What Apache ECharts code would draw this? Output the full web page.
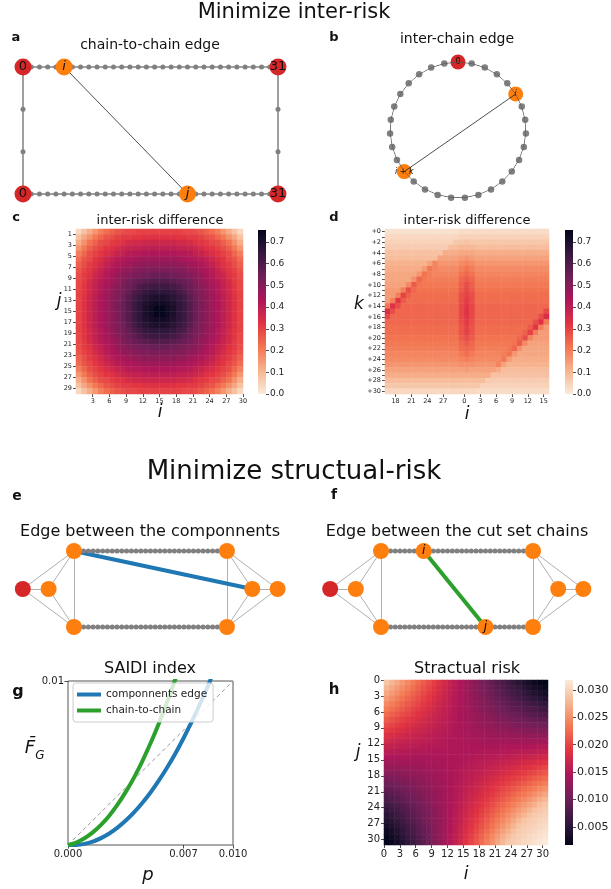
<!DOCTYPE html>
<html>
<head>
<meta charset="utf-8">
<title>Minimize inter-risk / structual-risk</title>
<script src="https://cdn.jsdelivr.net/npm/echarts@6.0.0/dist/echarts.min.js"></script>
<style>
html,body{margin:0;padding:0;background:#fff;}
#chart{width:611px;height:889px;}
</style>
</head>
<body>
<div id="chart"></div>
<script>
const FONT = 'DejaVu Sans';
const RED = '#d62728', ORANGE = '#ff7f0e', GREY = '#808080', BLUE = '#1f77b4', GREEN = '#2ca02c';
const ROCKET = ['#03051a', '#35193e', '#701f57', '#ad1759', '#e13342', '#f37651', '#f6b48f', '#faebdd'];
const ROCKET_R = ROCKET.slice().reverse();

// ================= DATA =================
// (a) chain-to-chain edge
const aChainNodes = 32;
const aSideNodes = 2;
const aEdgeI = 5;
const aEdgeJ = 20;

// (b) inter-chain edge on a ring
const bRingNodes = 31;
const bEdgeI = 5;
const bEdgeK = 15;

// (c) inter-risk difference (values x0.01), rows j, cols i
const cRange = [0, 0.755];
const cXTicks = [3, 6, 9, 12, 15, 18, 21, 24, 27, 30];
const cYTicks = [1, 3, 5, 7, 9, 11, 13, 15, 17, 19, 21, 23, 25, 27, 29];
const cBarTicks = [0, 0.1, 0.2, 0.3, 0.4, 0.5, 0.6, 0.7];
const cValues = [
[4,8,12,16,20,23,25,27,28,29,29,30,30,30,30,30,30,30,30,29,29,28,27,25,23,20,16,12,8,4],
[8,13,17,21,24,27,28,30,31,31,32,32,33,33,33,33,33,33,32,32,31,31,30,28,27,24,21,17,13,8],
[12,17,22,25,28,29,31,32,33,35,36,36,37,37,37,37,37,37,36,36,35,33,32,31,29,28,25,22,17,12],
[16,21,25,28,30,32,33,35,37,38,39,39,40,40,40,40,40,40,39,39,38,37,35,33,32,30,28,25,21,16],
[20,24,28,30,32,34,36,38,39,41,42,42,43,43,43,43,43,43,42,42,41,39,38,36,34,32,30,28,24,20],
[23,27,29,32,34,37,39,41,42,43,44,45,46,46,46,46,46,46,45,44,43,42,41,39,37,34,32,29,27,23],
[25,28,31,33,36,39,41,43,44,46,47,48,49,49,49,49,49,49,48,47,46,44,43,41,39,36,33,31,28,25],
[27,30,32,35,38,41,43,45,47,48,50,51,51,52,52,52,52,51,51,50,48,47,45,43,41,38,35,32,30,27],
[28,31,33,37,39,42,44,47,49,51,52,53,54,55,55,55,55,54,53,52,51,49,47,44,42,39,37,33,31,28],
[29,31,35,38,41,43,46,48,51,53,55,56,58,59,59,59,59,58,56,55,53,51,48,46,43,41,38,35,31,29],
[29,32,36,39,42,44,47,50,52,55,57,60,62,63,63,63,63,62,60,57,55,52,50,47,44,42,39,36,32,29],
[30,32,36,39,42,45,48,51,53,56,60,62,65,66,66,66,66,65,62,60,56,53,51,48,45,42,39,36,32,30],
[30,33,37,40,43,46,49,51,54,58,62,65,67,69,70,70,69,67,65,62,58,54,51,49,46,43,40,37,33,30],
[30,33,37,40,43,46,49,52,55,59,63,66,69,71,72,72,71,69,66,63,59,55,52,49,46,43,40,37,33,30],
[30,33,37,40,43,46,49,52,55,59,63,66,70,72,75,75,72,70,66,63,59,55,52,49,46,43,40,37,33,30],
[30,33,37,40,43,46,49,52,55,59,63,66,70,72,75,75,72,70,66,63,59,55,52,49,46,43,40,37,33,30],
[30,33,37,40,43,46,49,52,55,59,63,66,69,71,72,72,71,69,66,63,59,55,52,49,46,43,40,37,33,30],
[30,33,37,40,43,46,49,51,54,58,62,65,67,69,70,70,69,67,65,62,58,54,51,49,46,43,40,37,33,30],
[30,32,36,39,42,45,48,51,53,56,60,62,65,66,66,66,66,65,62,60,56,53,51,48,45,42,39,36,32,30],
[29,32,36,39,42,44,47,50,52,55,57,60,62,63,63,63,63,62,60,57,55,52,50,47,44,42,39,36,32,29],
[29,31,35,38,41,43,46,48,51,53,55,56,58,59,59,59,59,58,56,55,53,51,48,46,43,41,38,35,31,29],
[28,31,33,37,39,42,44,47,49,51,52,53,54,55,55,55,55,54,53,52,51,49,47,44,42,39,37,33,31,28],
[27,30,32,35,38,41,43,45,47,48,50,51,51,52,52,52,52,51,51,50,48,47,45,43,41,38,35,32,30,27],
[25,28,31,33,36,39,41,43,44,46,47,48,49,49,49,49,49,49,48,47,46,44,43,41,39,36,33,31,28,25],
[23,27,29,32,34,37,39,41,42,43,44,45,46,46,46,46,46,46,45,44,43,42,41,39,37,34,32,29,27,23],
[20,24,28,30,32,34,36,38,39,41,42,42,43,43,43,43,43,43,42,42,41,39,38,36,34,32,30,28,24,20],
[16,21,25,28,30,32,33,35,37,38,39,39,40,40,40,40,40,40,39,39,38,37,35,33,32,30,28,25,21,16],
[12,17,22,25,28,29,31,32,33,35,36,36,37,37,37,37,37,37,36,36,35,33,32,31,29,28,25,22,17,12],
[8,13,17,21,24,27,28,30,31,31,32,32,33,33,33,33,33,33,32,32,31,31,30,28,27,24,21,17,13,8],
[4,8,12,16,20,23,25,27,28,29,29,30,30,30,30,30,30,30,30,29,29,28,27,25,23,20,16,12,8,4]
];

// (d) inter-risk difference (values x0.01), rows k, columns in order of i below
const dColI = [16,17,18,19,20,21,22,23,24,25,26,27,28,29,30,0,1,2,3,4,5,6,7,8,9,10,11,12,13,14,15];
const dRowLabels = ['+0','+1','+2','+3','+4','+5','+6','+7','+8','+9','+10','+11','+12','+13','+14','+15','+16','+17','+18','+19','+20','+21','+22','+23','+24','+25','+26','+27','+28','+29','+30'];
const dXTickPos = [2, 5, 8, 11, 15, 18, 21, 24, 27, 30];
const dValues = [
[2,2,2,2,2,2,2,2,2,2,2,2,2,2,3,3,3,3,3,3,3,3,3,3,3,3,3,3,3,3,3],
[4,4,4,4,4,4,4,4,4,4,4,4,4,4,5,5,5,5,5,5,5,5,5,5,5,5,5,5,5,5,5],
[5,5,5,5,5,5,5,5,5,5,5,5,5,7,7,8,7,7,7,7,7,7,7,7,7,7,7,7,7,7,7],
[6,6,6,6,6,6,6,6,6,6,6,6,9,9,10,10,10,9,9,9,9,9,9,9,9,9,9,9,9,9,9],
[8,8,8,8,8,8,8,8,8,8,8,12,12,12,13,13,13,12,12,12,12,12,12,12,12,12,12,12,12,12,12],
[9,9,9,9,9,9,9,9,9,9,14,14,14,14,15,16,15,14,14,14,14,14,14,14,14,14,14,14,14,14,14],
[11,11,11,11,11,11,11,11,14,19,16,16,16,16,18,19,18,16,16,16,16,16,16,16,16,16,16,16,16,16,16],
[12,12,12,12,12,12,12,15,21,19,18,18,18,18,20,22,20,18,18,18,18,18,18,18,18,18,18,18,18,18,18],
[13,13,13,13,13,13,16,22,20,19,19,19,19,19,22,24,22,19,19,19,19,19,19,19,19,19,19,19,19,19,19],
[13,13,13,13,13,17,24,21,20,20,20,20,20,20,24,26,24,20,20,20,20,20,20,20,20,20,20,20,20,20,20],
[14,14,14,14,18,26,22,21,21,21,21,21,21,21,25,28,25,21,21,21,21,21,21,21,21,21,21,21,21,21,21],
[15,15,15,20,28,24,22,22,22,22,22,22,22,22,26,29,26,22,22,22,22,22,22,22,22,22,22,22,22,22,22],
[15,15,20,30,25,23,23,23,23,23,23,23,23,23,28,30,28,23,23,23,23,23,23,23,23,23,23,23,23,23,23],
[15,20,32,26,23,23,23,23,23,23,23,23,23,23,28,31,28,23,23,23,23,23,23,23,23,23,23,23,23,23,23],
[21,33,28,24,24,24,24,24,24,24,24,24,24,24,29,32,29,24,24,24,24,24,24,24,24,24,24,24,24,24,24],
[34,28,24,24,24,24,24,24,24,24,24,24,24,24,29,33,29,24,24,24,24,24,24,24,24,24,24,24,24,24,29],
[29,24,24,24,24,24,24,24,24,24,24,24,24,24,29,32,29,24,24,24,24,24,24,24,24,24,24,24,24,28,34],
[24,24,24,24,24,24,24,24,24,24,24,24,24,24,28,31,28,24,24,24,24,24,24,24,24,24,24,24,28,33,21],
[23,23,23,23,23,23,23,23,23,23,23,23,23,23,27,30,27,23,23,23,23,23,23,23,23,23,23,26,32,20,15],
[23,23,23,23,23,23,23,23,23,23,23,23,23,23,27,30,27,23,23,23,23,23,23,23,23,23,25,30,20,15,15],
[22,22,22,22,22,22,22,22,22,22,22,22,22,22,26,28,26,22,22,22,22,22,22,22,22,24,28,19,15,15,15],
[21,21,21,21,21,21,21,21,21,21,21,21,21,21,24,26,24,21,21,21,21,21,21,21,22,26,18,14,14,14,14],
[20,20,20,20,20,20,20,20,20,20,20,20,20,20,23,24,23,20,20,20,20,20,20,21,24,17,13,13,13,13,13],
[19,19,19,19,19,19,19,19,19,19,19,19,19,19,21,23,21,19,19,19,19,19,20,22,16,13,13,13,13,13,13],
[18,18,18,18,18,18,18,18,18,18,18,18,18,18,19,20,19,18,18,18,18,18,21,15,12,12,12,12,12,12,12],
[16,16,16,16,16,16,16,16,16,16,16,16,16,16,17,17,17,16,16,16,16,19,14,11,11,11,11,11,11,11,11],
[14,14,14,14,14,14,14,14,14,14,14,14,14,14,14,15,14,14,14,14,14,12,9,9,9,9,9,9,9,9,9],
[12,12,12,12,12,12,12,12,12,12,12,12,12,12,12,12,12,12,12,12,8,8,8,8,8,8,8,8,8,8,8],
[9,9,9,9,9,9,9,9,9,9,9,9,9,9,9,9,9,9,9,6,6,6,6,6,6,6,6,6,6,6,6],
[7,7,7,7,7,7,7,7,7,7,7,7,7,7,7,7,7,7,5,5,5,5,5,5,5,5,5,5,5,5,5],
[4,4,4,4,4,4,4,4,4,4,4,4,4,4,4,4,4,3,3,3,3,3,3,3,3,3,3,3,3,3,3]
];

// (e)(f) component graphs
const efChainNodes = 31;
const efHubX = [-10.7, -5.3, 37.3, 42.6];
const fEdgeI = 9;
const fEdgeJ = 22;

// (g) SAIDI index
const gP = [0,0.0005,0.001,0.0015,0.002,0.0025,0.003,0.0035,0.004,0.0045,0.005,0.0055,0.006,0.0065,0.007,0.0075,0.008,0.0085,0.009];
const gComponents = [0,0.000006,0.000071,0.000209,0.000419,0.000702,0.00106,0.00149,0.00199,0.00256,0.0032,0.00392,0.00471,0.00557,0.00651,0.00752,0.0086,0.00975,0.01098];
const gChainP = [0,0.0005,0.001,0.0015,0.002,0.0025,0.003,0.0035,0.004,0.0045,0.005,0.0055,0.006,0.0065,0.007];
const gChain = [0,0.00015,0.00041,0.00077,0.00123,0.00179,0.00246,0.00324,0.00411,0.0051,0.0062,0.0074,0.0087,0.0101,0.0115];
const gDiag = [0, 0.01];
const gXTicks = [0, 0.007, 0.01];
const gYTicks = [0.01];

// (h) Stractual risk (values x0.0001), rows j, cols i
const hRange = [0.0017, 0.0318];
const hTicks = [0, 3, 6, 9, 12, 15, 18, 21, 24, 27, 30];
const hBarTicks = [0.005, 0.01, 0.015, 0.02, 0.025, 0.03];
const hValues = [
[288,277,267,256,245,235,225,215,205,195,185,175,165,156,146,137,128,119,110,101,92,83,75,66,58,50,42,34,26,18,17],
[277,267,257,247,238,228,218,209,200,190,181,172,163,154,146,137,129,120,112,104,96,88,80,72,65,57,50,42,35,28,21],
[266,257,248,239,230,221,212,203,195,186,178,169,161,153,145,137,130,122,114,107,100,92,85,78,71,65,58,51,45,38,32],
[256,247,239,230,222,214,206,198,190,182,174,167,159,152,145,138,131,124,117,110,104,97,91,84,78,72,66,60,55,49,43],
[245,238,230,222,214,207,200,192,185,178,171,164,158,151,145,138,132,126,120,114,108,102,96,91,85,80,75,70,65,60,55],
[235,228,221,214,207,200,194,187,181,174,168,162,156,150,144,139,133,128,122,117,112,107,102,97,92,88,83,79,75,70,66],
[225,218,212,206,200,194,188,182,176,171,165,160,155,149,144,139,135,130,125,121,116,112,108,104,100,96,92,88,85,81,78],
[215,209,203,198,192,187,182,177,172,167,162,158,153,149,144,140,136,132,128,124,121,117,114,110,107,104,101,98,95,92,90],
[205,200,195,190,185,181,176,172,168,164,160,156,152,148,145,141,138,134,131,128,125,122,120,117,114,112,110,108,105,103,102],
[195,190,186,182,178,174,171,167,163,160,157,154,151,148,145,142,139,137,134,132,130,128,126,124,122,120,119,117,116,115,113],
[185,181,178,174,171,168,165,162,159,157,154,152,149,147,145,143,141,139,138,136,134,133,132,131,130,129,128,127,126,126,125],
[175,172,169,167,164,162,160,158,156,154,152,150,148,147,146,144,143,142,141,140,139,139,138,138,137,137,137,137,137,137,138],
[165,163,161,159,158,156,155,153,152,151,149,149,148,147,146,146,145,145,144,144,144,144,145,145,145,146,146,147,148,149,150],
[156,154,153,152,151,150,149,149,148,148,147,147,147,147,147,147,147,148,148,149,149,150,151,152,153,154,156,157,159,160,162],
[146,146,145,145,145,144,144,144,144,145,145,146,146,147,148,148,149,151,152,153,154,156,158,159,161,163,165,167,170,172,175],
[137,137,137,138,138,139,139,140,141,142,143,144,146,147,148,150,152,154,156,158,160,162,164,167,169,172,175,178,181,184,187],
[128,129,130,131,132,133,134,136,138,139,141,143,145,147,149,152,154,157,159,162,165,168,171,174,178,181,185,188,192,196,200],
[119,120,122,124,126,128,130,132,134,137,139,142,145,148,151,154,157,160,163,167,170,174,178,182,186,190,194,199,203,208,212],
[110,112,114,117,120,122,125,128,131,134,138,141,144,148,152,156,159,163,168,172,176,181,185,190,195,199,204,209,215,220,225],
[101,104,107,110,114,117,121,124,128,132,136,140,144,149,153,158,162,167,172,177,182,187,192,198,203,209,214,220,226,232,238],
[92,96,100,104,108,112,116,121,125,130,134,139,144,149,154,160,165,171,176,182,188,194,200,206,212,218,225,231,238,245,251],
[83,88,92,97,102,107,112,117,122,128,133,139,144,150,156,162,168,174,181,187,193,200,207,214,221,228,235,242,249,257,265],
[75,80,85,91,96,102,108,114,120,126,132,138,145,151,158,164,171,178,185,192,199,207,214,222,230,237,245,253,261,270,278],
[66,72,78,84,91,97,104,110,117,124,131,138,145,152,159,167,174,182,190,198,206,214,222,230,239,247,256,264,273,282,290],
[58,65,71,78,85,92,100,107,114,122,130,137,145,153,161,169,178,186,195,203,212,221,230,239,248,257,266,276,285,291,294],
[50,57,65,72,80,88,96,104,112,120,129,137,146,154,163,172,181,190,199,209,218,228,237,247,257,267,277,287,292,295,298],
[42,50,58,66,75,83,92,101,110,119,128,137,146,156,165,175,185,194,204,214,225,235,245,256,266,277,288,293,296,299,302],
[34,42,51,60,70,79,88,98,107,117,127,137,147,157,167,178,188,199,209,220,231,242,253,264,276,287,293,296,299,303,306],
[26,35,45,55,65,75,85,95,105,116,126,137,148,159,170,181,192,203,215,226,238,250,261,273,285,292,296,299,303,307,310],
[18,28,39,49,60,70,81,92,103,115,126,137,149,160,172,184,196,208,220,232,245,257,270,282,291,295,299,303,307,310,314],
[17,21,32,44,55,66,78,90,101,113,125,138,150,162,175,187,200,212,225,238,251,265,278,290,294,298,302,306,310,314,318]
];

// ================= BUILD =================
const grids = [], xAxes = [], yAxes = [], series = [], visualMaps = [];
function addGrid(g) { grids.push(Object.assign({ outerBoundsMode: 'none', containLabel: false }, g)); return grids.length - 1; }
function addX(a) { xAxes.push(a); return xAxes.length - 1; }
function addY(a) { yAxes.push(a); return yAxes.length - 1; }
const TICK_COLOR = '#222';
function idxList(n) { const a = []; for (let k = 0; k < n; k++) a.push(k); return a; }
function hiddenCat(gridIndex, n, inverse) {
  return { gridIndex, type: 'category', data: idxList(n), show: false, inverse: !!inverse };
}
function labelAxis(gridIndex, min, max, ticks, extra, fontSize, formatter) {
  return Object.assign({
    gridIndex, type: 'value', min, max,
    axisLine: { show: false }, splitLine: { show: false },
    axisTick: { show: true, length: 3, lineStyle: { color: TICK_COLOR, width: 0.8 }, customValues: ticks },
    axisLabel: { customValues: ticks, fontSize, color: TICK_COLOR, fontFamily: FONT, margin: 4,
      formatter: formatter || (v => String(Math.round(v))) }
  }, extra);
}
function gradient(colors) {
  return new echarts.graphic.LinearGradient(0, 0, 0, 1,
    colors.map((c, k) => ({ offset: k / (colors.length - 1), color: c })));
}
function colorbar(grid, range, ticks, fmt, colors, fontSize) {
  const g = addGrid(grid);
  const xi = addX({ gridIndex: g, type: 'category', data: ['cb'], show: false });
  const y0 = addY({ gridIndex: g, type: 'value', min: 0, max: 1, show: false });
  addY(labelAxis(g, range[0], range[1], ticks, { position: 'right' }, fontSize, fmt));
  series.push({ type: 'bar', xAxisIndex: xi, yAxisIndex: y0, data: [1], barWidth: '100%', silent: true,
    itemStyle: { color: gradient(colors) } });
}
function heatData(rows, scale) {
  const out = [];
  rows.forEach((row, r) => row.forEach((v, c) => out.push([c, r, v * scale])));
  return out;
}
const graphBase = {
  type: 'graph', coordinateSystem: 'cartesian2d', layout: 'none', silent: true,
  emphasis: { disabled: true },
  label: { position: 'inside', color: '#111', fontFamily: FONT }
};

// ---------- (a) ----------
(function () {
  const g = addGrid({ left: 23, top: 67, width: 255, height: 127 });
  const xi = addX({ gridIndex: g, type: 'value', min: 0, max: aChainNodes - 1, show: false });
  const yi = addY({ gridIndex: g, type: 'value', min: 0, max: aSideNodes + 1, show: false });
  const small = [], big = [], links = [];
  const smallNode = (name, x, y) => small.push({ name, value: [x, y], symbolSize: 5, itemStyle: { color: GREY }, label: { show: false } });
  const bigNode = (name, x, y, color, text, italic) => big.push({ name, value: [x, y], symbolSize: 17, itemStyle: { color },
    label: { show: true, formatter: text, fontSize: 13, fontStyle: italic ? 'italic' : 'normal' } });
  const rows = [['t', aSideNodes + 1, aEdgeI, 'i'], ['b', 0, aEdgeJ, 'j']];
  rows.forEach(([p, y, special, lab]) => {
    for (let k = 0; k < aChainNodes; k++) {
      const name = p + k;
      if (k === 0 || k === aChainNodes - 1) bigNode(name, k, y, RED, String(k), false);
      else if (k === special) bigNode(name, k, y, ORANGE, lab, true);
      else smallNode(name, k, y);
      if (k > 0) links.push({ source: p + (k - 1), target: name });
    }
  });
  [['l', 0], ['r', aChainNodes - 1]].forEach(([s, x]) => {
    let prev = 't' + x;
    for (let q = 1; q <= aSideNodes; q++) {
      const name = s + q; smallNode(name, x, aSideNodes + 1 - q);
      links.push({ source: prev, target: name }); prev = name;
    }
    links.push({ source: prev, target: 'b' + x });
  });
  links.push({ source: 't' + aEdgeI, target: 'b' + aEdgeJ, lineStyle: { color: '#222', width: 0.8 } });
  series.push(Object.assign({}, graphBase, { xAxisIndex: xi, yAxisIndex: yi, data: small.concat(big), links,
    lineStyle: { color: GREY, width: 1.5, opacity: 1 } }));
})();

// ---------- (b) ----------
(function () {
  const ring = [];
  for (let k = 0; k <= bRingNodes; k++) ring.push([1, k]);
  series.push({ type: 'line', coordinateSystem: 'polar', polarIndex: 0, data: ring, symbol: 'none', silent: true,
    lineStyle: { color: '#555', width: 1 } });
  series.push({ type: 'line', coordinateSystem: 'polar', polarIndex: 0, data: [[1, bEdgeI], [1, bEdgeI + bEdgeK]], symbol: 'none', silent: true,
    lineStyle: { color: '#222', width: 0.8 } });
  const nodes = [];
  for (let k = 0; k < bRingNodes; k++) {
    let color = GREY, size = 6.5, label = { show: false };
    if (k === 0) { color = RED; size = 15; label = { show: true, formatter: '0' }; }
    else if (k === bEdgeI) { color = ORANGE; size = 15; label = { show: true, formatter: 'i', fontStyle: 'italic' }; }
    else if (k === bEdgeI + bEdgeK) { color = ORANGE; size = 15; label = { show: true, formatter: 'i + k', fontStyle: 'italic' }; }
    nodes.push({ value: [1, k], symbolSize: size, itemStyle: { color, opacity: 1 }, label });
  }
  series.push({ type: 'scatter', coordinateSystem: 'polar', polarIndex: 0, data: nodes, silent: true,
    label: { position: 'inside', fontSize: 8, color: '#111', fontFamily: FONT } });
})();

// ---------- (c) ----------
(function () {
  const g = addGrid({ left: 76, top: 229, width: 167, height: 165 });
  const xh = addX(hiddenCat(g, cValues[0].length));
  addX(labelAxis(g, 0, cValues[0].length, cXTicks, { position: 'bottom' }, 6.5));
  const yh = addY(hiddenCat(g, cValues.length, true));
  addY(labelAxis(g, 0, cValues.length, cYTicks, { position: 'left', inverse: true }, 6.5));
  visualMaps.push({ type: 'continuous', seriesIndex: series.length, min: cRange[0], max: cRange[1], show: false, inRange: { color: ROCKET_R } });
  series.push({ type: 'heatmap', xAxisIndex: xh, yAxisIndex: yh, data: heatData(cValues, 0.01), silent: true, emphasis: { disabled: true } });
  colorbar({ left: 258, top: 230, width: 8, height: 164 }, cRange, cBarTicks, v => v.toFixed(1), ROCKET, 9);
})();

// ---------- (d) ----------
(function () {
  const g = addGrid({ left: 385, top: 229, width: 164, height: 165 });
  const xh = addX(hiddenCat(g, dColI.length));
  addX(labelAxis(g, 0, dColI.length, dXTickPos, { position: 'bottom' }, 6.5, v => String(dColI[Math.round(v)])));
  const yh = addY({ gridIndex: g, type: 'category', data: dRowLabels, inverse: true,
    axisLine: { show: false }, splitLine: { show: false },
    axisTick: { show: true, interval: 0, alignWithLabel: true, length: 3, lineStyle: { color: TICK_COLOR, width: 0.8 } },
    axisLabel: { interval: 1, fontSize: 6.5, color: TICK_COLOR, fontFamily: FONT, margin: 4 } });
  visualMaps.push({ type: 'continuous', seriesIndex: series.length, min: cRange[0], max: cRange[1], show: false, inRange: { color: ROCKET_R } });
  series.push({ type: 'heatmap', xAxisIndex: xh, yAxisIndex: yh, data: heatData(dValues, 0.01), silent: true, emphasis: { disabled: true } });
  colorbar({ left: 565, top: 230, width: 8, height: 164 }, cRange, cBarTicks, v => v.toFixed(1), ROCKET, 9);
})();

// ---------- (e) / (f) ----------
function componentGraph(grid, special) {
  const g = addGrid(grid);
  const xi = addX({ gridIndex: g, type: 'value', min: -12, max: efChainNodes + 13, show: false });
  const yi = addY({ gridIndex: g, type: 'value', min: -1.5, max: 1.5, show: false });
  const small = [], hubs = [], top = [], links = [];
  const specialNames = special.chain ? { ['T' + special.chain[0]]: 'i', ['B' + special.chain[1]]: 'j' } : {};
  ['T', 'B'].forEach((p, r) => {
    const y = r === 0 ? 1 : -1;
    for (let k = 1; k <= efChainNodes; k++) {
      const name = p + k;
      if (specialNames[name]) top.push({ name, value: [k, y], symbolSize: 16, itemStyle: { color: ORANGE },
        label: { show: true, formatter: specialNames[name], fontSize: 12, fontStyle: 'italic', color: '#000' } });
      else small.push({ name, value: [k, y], symbolSize: 5, itemStyle: { color: GREY }, label: { show: false } });
    }
  });
  const hubDefs = [['hR', efHubX[0], 0, RED], ['hO', efHubX[1], 0, ORANGE], ['TL', 0, 1, ORANGE], ['BL', 0, -1, ORANGE],
    ['TR', efChainNodes + 1, 1, ORANGE], ['BR', efChainNodes + 1, -1, ORANGE], ['R1', efHubX[2], 0, ORANGE], ['R2', efHubX[3], 0, ORANGE]];
  hubDefs.forEach(([name, x, y, color]) => hubs.push({ name, value: [x, y], symbolSize: 16, itemStyle: { color }, label: { show: false } }));
  const light = { color: '#b0b0b0', width: 1 };
  [['hR', 'TL'], ['hR', 'BL'], ['hR', 'hO'], ['hO', 'TL'], ['hO', 'BL'], ['TL', 'BL'],
   ['TR', 'BR'], ['TR', 'R1'], ['TR', 'R2'], ['BR', 'R1'], ['BR', 'R2'], ['R1', 'R2']]
    .forEach(([s, t]) => links.push({ source: s, target: t, lineStyle: light }));
  const chainStyle = { color: GREY, width: 2 };
  [['T', 'TL', 'TR'], ['B', 'BL', 'BR']].forEach(([p, a, b]) => {
    let prev = a;
    for (let k = 1; k <= efChainNodes; k++) { links.push({ source: prev, target: p + k, lineStyle: chainStyle }); prev = p + k; }
    links.push({ source: prev, target: b, lineStyle: chainStyle });
  });
  if (special.hub) links.push({ source: special.hub[0], target: special.hub[1], lineStyle: { color: BLUE, width: 4 } });
  if (special.chain) links.push({ source: 'T' + special.chain[0], target: 'B' + special.chain[1], lineStyle: { color: GREEN, width: 4 } });
  series.push(Object.assign({}, graphBase, { xAxisIndex: xi, yAxisIndex: yi, data: small.concat(hubs, top), links,
    lineStyle: { color: GREY, width: 1, opacity: 1 } }));
}
componentGraph({ left: 16.6, top: 532, width: 267.7, height: 114 }, { hub: ['TL', 'R1'] });
componentGraph({ left: 324, top: 532, width: 266, height: 114 }, { chain: [fEdgeI, fEdgeJ] });

// ---------- (g) ----------
(function () {
  const g = addGrid({ left: 68, top: 681, width: 165, height: 164, show: true, borderColor: '#555', borderWidth: 1, backgroundColor: 'transparent' });
  const xi = addX(labelAxis(g, 0, 0.01, gXTicks, { position: 'bottom' }, 10, v => v.toFixed(3)));
  const yi = addY(labelAxis(g, 0, 0.01, gYTicks, { position: 'left' }, 10, v => String(v)));
  xAxes[xi].axisTick.length = 3.5; yAxes[yi].axisTick.length = 3.5;
  series.push({ type: 'line', xAxisIndex: xi, yAxisIndex: yi, data: gDiag.map(v => [v, v]), symbol: 'none', silent: true,
    lineStyle: { color: '#999', width: 1, type: [4, 3] } });
  series.push({ type: 'line', name: 'componnents edge', xAxisIndex: xi, yAxisIndex: yi, data: gP.map((p, k) => [p, gComponents[k]]),
    symbol: 'none', silent: true, clip: true, smooth: 0.3, lineStyle: { color: BLUE, width: 4 }, itemStyle: { color: BLUE } });
  series.push({ type: 'line', name: 'chain-to-chain', xAxisIndex: xi, yAxisIndex: yi, data: gChainP.map((p, k) => [p, gChain[k]]),
    symbol: 'none', silent: true, clip: true, smooth: 0.3, lineStyle: { color: GREEN, width: 4 }, itemStyle: { color: GREEN } });
})();

// ---------- (h) ----------
(function () {
  const g = addGrid({ left: 384, top: 680, width: 164, height: 165 });
  const xh = addX(hiddenCat(g, hValues[0].length));
  addX(labelAxis(g, 0, hValues[0].length, hTicks, { position: 'bottom' }, 10));
  const yh = addY(hiddenCat(g, hValues.length, true));
  addY(labelAxis(g, 0, hValues.length, hTicks, { position: 'left', inverse: true }, 10));
  visualMaps.push({ type: 'continuous', seriesIndex: series.length, min: hRange[0], max: hRange[1], show: false, inRange: { color: ROCKET } });
  series.push({ type: 'heatmap', xAxisIndex: xh, yAxisIndex: yh, data: heatData(hValues, 0.0001), silent: true, emphasis: { disabled: true } });
  colorbar({ left: 565, top: 680, width: 8, height: 165 }, hRange, hBarTicks, v => v.toFixed(3), ROCKET_R, 11);
})();

// ---------- texts ----------
function txt(text, x, y, size, opt) {
  return { type: 'text', x, y, silent: true, z: 100,
    style: Object.assign({ text, fontSize: size, fontFamily: FONT, fill: '#111', align: 'center', verticalAlign: 'middle' }, opt || {}) };
}
const bold = { fontWeight: 'bold' }, ital = { fontStyle: 'italic' };
const texts = [
  txt('Minimize inter-risk', 294, 13, 21),
  txt('Minimize structual-risk', 294, 472, 26),
  txt('chain-to-chain edge', 150, 45, 14),
  txt('inter-chain edge', 457, 39, 14),
  txt('inter-risk difference', 160, 221, 13),
  txt('inter-risk difference', 467, 221, 13),
  txt('Edge between the componnents', 150, 532, 16),
  txt('Edge between the cut set chains', 457, 532, 16),
  txt('SAIDI index', 150, 669, 16),
  txt('Stractual risk', 467, 669, 16),
  txt('a', 16, 38, 13, bold), txt('b', 334, 38, 13, bold),
  txt('c', 16, 218, 13, bold), txt('d', 334, 218, 13, bold),
  txt('e', 17, 496, 14, bold), txt('f', 334, 495, 14, bold),
  txt('g', 18, 692, 16, bold), txt('h', 334, 690, 15, bold),
  txt('j', 59, 302, 17, ital), txt('i', 160, 413, 17, ital),
  txt('k', 359, 305, 17, ital), txt('i', 467, 415, 17, ital),
  txt('p', 148, 875, 18, ital),
  txt('j', 358, 753, 17, ital), txt('i', 466, 875, 17, ital),
  txt('F\u0304', 30, 748, 18, ital), txt('G', 40, 756, 12, ital)
];

const option = {
  animation: false,
  backgroundColor: '#fff',
  textStyle: { fontFamily: FONT },
  grid: grids,
  xAxis: xAxes,
  yAxis: yAxes,
  polar: [{ center: [458, 130], radius: 68 }],
  angleAxis: [{ polarIndex: 0, type: 'value', min: 0, max: bRingNodes, startAngle: 90, clockwise: true, show: false }],
  radiusAxis: [{ polarIndex: 0, type: 'value', min: 0, max: 1, show: false }],
  visualMap: visualMaps,
  legend: {
    data: [{ name: 'componnents edge', icon: 'rect' }, { name: 'chain-to-chain', icon: 'rect' }],
    orient: 'vertical', left: 73, top: 683, itemWidth: 24, itemHeight: 4, itemGap: 5, selectedMode: false,
    textStyle: { fontSize: 10.5, color: '#222', fontFamily: FONT },
    backgroundColor: 'rgba(255,255,255,0.8)', borderColor: '#ccc', borderWidth: 1, borderRadius: 3, padding: [6, 6, 6, 4]
  },
  series,
  graphic: { elements: texts }
};
const chart = echarts.init(document.getElementById('chart'), null, { renderer: 'canvas', width: 611, height: 889 });
chart.setOption(option);
</script>
</body>
</html>
